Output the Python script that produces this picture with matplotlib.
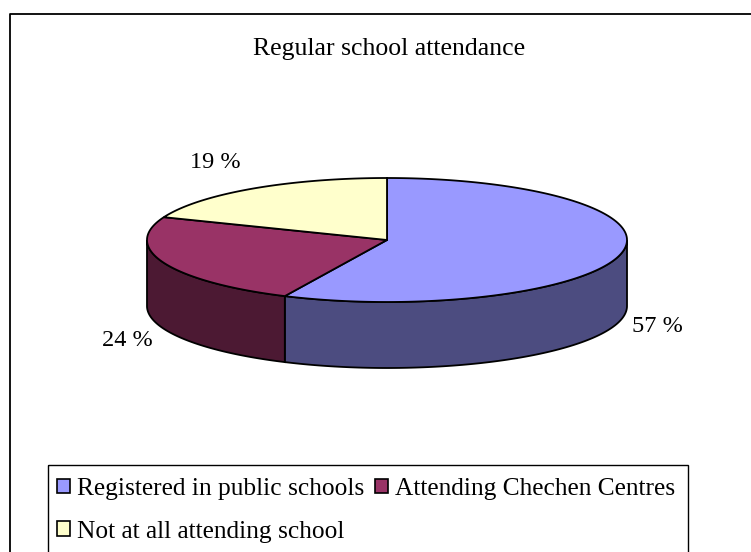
import numpy as np
import matplotlib.pyplot as plt
from matplotlib.patches import Polygon, Patch, Rectangle

labels = ['Registered in public schools', 'Attending Chechen Centres', 'Not at all attending school']
values = [57, 24, 19]
top_colors = ['#9999FF', '#993366', '#FFFFCC']
side_colors = ['#4C4C80', '#4C1933', '#808066']

plt.rcParams['font.family'] = ['Liberation Serif', 'DejaVu Serif']

fig = plt.figure(figsize=(7.51, 5.52), dpi=100)
ax = fig.add_axes([0, 0, 1, 1])
ax.set_xlim(0, 751)
ax.set_ylim(552, 0)
ax.axis('off')

# chart frame (runs off the right and bottom edges)
ax.plot([10, 10, 760], [560, 14, 14], color='black', lw=1.3)

ax.text(389, 49, 'Regular school attendance', ha='center', va='center', fontsize=18.5)

# 3d pie geometry
cx, cy, rx, ry, depth = 387, 240, 240, 62, 66

fracs = np.array(values) / sum(values)
ends = 90 - 360 * np.cumsum(fracs)
starts = ends + 360 * fracs


def rim(theta, dy=0):
    t = np.radians(theta)
    return cx + rx * np.cos(t), cy - ry * np.sin(t) + dy


# front walls first
for i in range(len(values)):
    lo, hi = max(ends[i], -180), min(starts[i], 0)
    if lo < hi:
        th = np.linspace(hi, lo, 120)
        x1, y1 = rim(th)
        x2, y2 = rim(th[::-1], depth)
        pts = np.column_stack([np.r_[x1, x2], np.r_[y1, y2]])
        ax.add_patch(Polygon(pts, closed=True, facecolor=side_colors[i],
                             edgecolor='black', lw=1.3))

# top faces
for i in range(len(values)):
    th = np.linspace(starts[i], ends[i], 200)
    x, y = rim(th)
    pts = np.column_stack([np.r_[cx, x], np.r_[cy, y]])
    ax.add_patch(Polygon(pts, closed=True, facecolor=top_colors[i],
                         edgecolor='black', lw=1.3))

# percentage labels
for i, v in enumerate(values):
    mid = (starts[i] + ends[i]) / 2
    s, c = np.sin(np.radians(mid)), np.cos(np.radians(mid))
    x, y = rim(mid, depth if s < 0 else 0)
    ax.text(x + (11 if c > 0 else -11), y - 32 * s, f'{v} %',
            ha='left' if c > 0 else 'right', va='center', fontsize=17.5)

# legend box (bottom runs off the figure)
ax.add_patch(Rectangle((48, 465), 640, 100, facecolor='none', edgecolor='black', lw=1.0))
handles = [Patch(facecolor=c, edgecolor='black', lw=1.2) for c in top_colors]
order = [0, 2, 1]
fig.legend([handles[k] for k in order], [labels[k] for k in order], ncol=2,
           loc='upper left', bbox_to_anchor=(57 / 751, 1 - 478 / 552),
           frameon=False, fontsize=18.3, borderpad=0, borderaxespad=0,
           handlelength=0.52, handleheight=0.52, handletextpad=0.25,
           columnspacing=0.45, labelspacing=0.82)

fig.savefig('out.png', dpi=100)
